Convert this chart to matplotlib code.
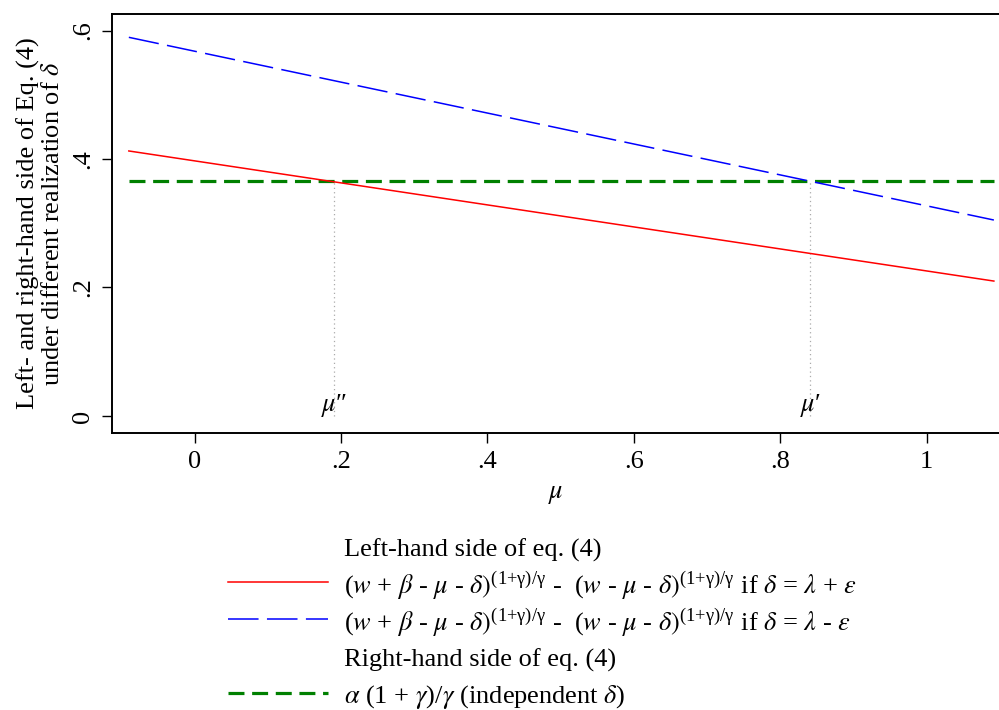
import matplotlib
matplotlib.use("Agg")
from matplotlib import pyplot as plt
from matplotlib.lines import Line2D

plt.rcParams['font.family'] = ['Liberation Serif', 'DejaVu Serif']
plt.rcParams['mathtext.fontset'] = 'stix'

# values
mu = [-0.09, 1.092]
lhs_plus = [0.4125, 0.210]     # delta = lambda + eps
lhs_minus = [0.5894, 0.305]    # delta = lambda - eps
rhs = [0.366, 0.366]           # alpha (1+gamma)/gamma
mu_cross = [0.190, 0.841]
mu_cross_labels = ["$\\mu$\u2033", "$\\mu$\u2032"]
xticks = [0, 0.2, 0.4, 0.6, 0.8, 1.0]
xtick_labels = ['0', '.2', '.4', '.6', '.8', '1']
yticks = [0, 0.2, 0.4, 0.6]
ytick_labels = ['0', '.2', '.4', '.6']

FS = 19

red_style = dict(color='red', lw=1.1)
blue_style = dict(color='blue', lw=1.1, dashes=(20, 5.5))
green_style = dict(color='green', lw=2.3, dashes=(5.0, 2.4))

fig = plt.figure(figsize=(9.99, 7.1), dpi=100)
ax = fig.add_axes([112 / 999, 1 - 433 / 710, 1 - 112 / 999, (433 - 14) / 710])

for xc in mu_cross:
    ax.plot([xc, xc], [0, rhs[0]], color='#aaaaaa', lw=0.9, ls=(0, (1, 2.5)), zorder=1)
for xc, lab in zip(mu_cross, mu_cross_labels):
    ax.text(xc, -0.004, lab, ha='center', va='bottom', fontsize=FS)

ax.plot(mu, lhs_plus, zorder=3, **red_style)
ax.plot(mu, lhs_minus, zorder=3, **blue_style)
ax.plot(mu, rhs, zorder=2, **green_style)

ax.set_xlim(-0.113, 1.099)
ax.set_ylim(-0.0265, 0.6257)
ax.set_xticks(xticks)
ax.set_xticklabels(xtick_labels, fontsize=FS)
ax.set_yticks(yticks)
ax.set_yticklabels(ytick_labels, fontsize=FS, rotation=90, va='center')
ax.tick_params(direction='out', length=7, width=1.0, pad=6)
ax.spines['right'].set_visible(False)
for s in ['left', 'top', 'bottom']:
    ax.spines[s].set_linewidth(1.4)

ax.set_xlabel(r"$\mu$", fontsize=FS, labelpad=8)
fig.text(0.040, 1 - 223.5 / 710,
         "Left- and right-hand side of Eq. (4)\nunder different realization of $\\delta$",
         rotation=90, ha='center', va='center', fontsize=FS, linespacing=1.1,
         multialignment='center')

# legend, laid out by hand like Stata's (header rows without a key)
sup = r"$)^{\mathregular{(1{+}\gamma)/\gamma}}$"
lab_plus = (r"($w$ + $\beta$ - $\mu$ - $\delta$" + sup + r" -  ($w$ - $\mu$ - $\delta$" + sup
            + r" if $\delta$ = $\lambda$ + $\varepsilon$")
lab_minus = (r"($w$ + $\beta$ - $\mu$ - $\delta$" + sup + r" -  ($w$ - $\mu$ - $\delta$" + sup
             + r" if $\delta$ = $\lambda$ - $\varepsilon$")
rows = [(None, "Left-hand side of eq. (4)"),
        (red_style, lab_plus),
        (blue_style, lab_minus),
        (None, "Right-hand side of eq. (4)"),
        (green_style, r"$\alpha$ (1 + $\gamma$)/$\gamma$ (independent $\delta$)")]
row_y = [548, 582, 619, 658, 693]
for (style, txt), yp in zip(rows, row_y):
    yf = 1 - yp / 710
    if style is not None:
        fig.add_artist(Line2D([228 / 999, 328 / 999], [yf, yf],
                              transform=fig.transFigure, **style))
    fig.text(344 / 999, yf, txt, ha='left', va='center_baseline', fontsize=FS)

fig.savefig('out.png', dpi=100)
